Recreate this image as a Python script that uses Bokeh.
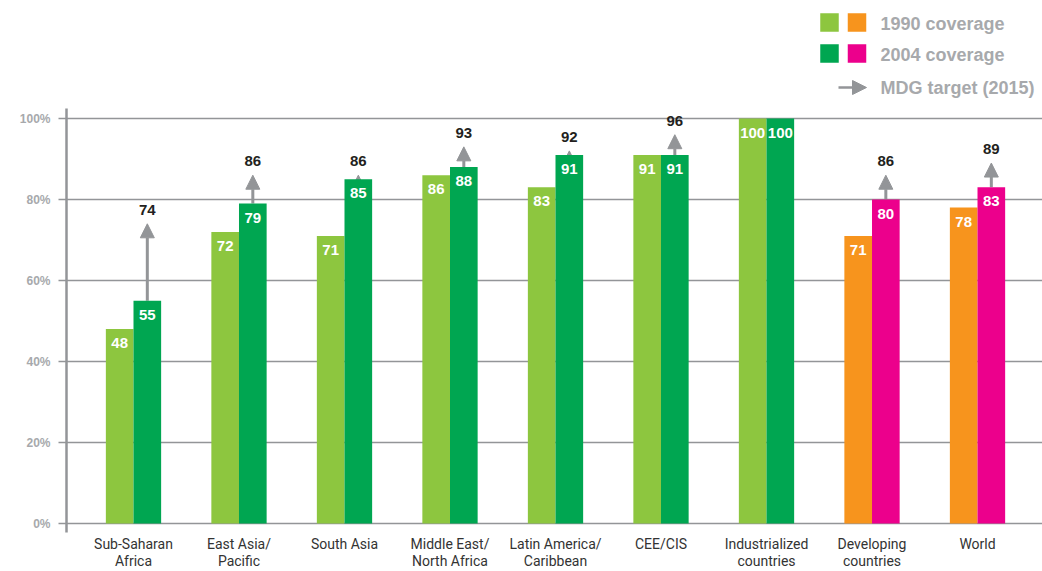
from bokeh.plotting import figure
from bokeh.models import (Range1d, ColumnDataSource, Arrow, NormalHead, FixedTicker)
from bokeh.layouts import column
from bokeh.core.properties import value
from bokeh.embed import file_html
from bokeh.resources import INLINE

# ---------------- data ----------------
categories = ["Sub-Saharan\nAfrica", "East Asia/\nPacific", "South Asia",
              "Middle East/\nNorth Africa", "Latin America/\nCaribbean", "CEE/CIS",
              "Industrialized\ncountries", "Developing\ncountries", "World"]
coverage_1990 = [48, 72, 71, 86, 83, 91, 100, 71, 78]
coverage_2004 = [55, 79, 85, 88, 91, 91, 100, 80, 83]
mdg_target = [74, 86, 86, 93, 92, 96, None, 86, 89]
is_aggregate = [False, False, False, False, False, False, False, True, True]
y_ticks = [0, 20, 40, 60, 80, 100]
legend_labels = ["1990 coverage", "2004 coverage", "MDG target (2015)"]

# ---------------- styles ----------------
C_LIGHT = "#8DC63F"
C_DARK = "#00A651"
C_ORANGE = "#F7941D"
C_MAGENTA = "#EC008C"
C_GRAY = "#939598"
C_TEXT_GRAY = "#A7A9AC"
BOLD_FONT = "'Liberation Sans', Arial, sans-serif"
NARROW_FONT = "'Liberation Sans Narrow', 'Roboto', sans-serif"
BW = 0.262
W = 1042
LEFT = 66

xs = list(range(len(categories)))
src = ColumnDataSource(dict(
    x=xs,
    x1=[x - BW / 2 for x in xs],
    x2=[x + BW / 2 for x in xs],
    v1=coverage_1990,
    v2=coverage_2004,
    l1=[str(v) for v in coverage_1990],
    l2=[str(v) for v in coverage_2004],
    c1=[C_ORANGE if a else C_LIGHT for a in is_aggregate],
    c2=[C_MAGENTA if a else C_DARK for a in is_aggregate],
    cat=categories,
    zero=[0] * len(categories),
))

ti = [i for i, t in enumerate(mdg_target) if t is not None]
tsrc = ColumnDataSource(dict(
    x=[xs[i] + BW / 2 for i in ti],
    y0=[coverage_2004[i] for i in ti],
    y1=[mdg_target[i] for i in ti],
    lab=[str(mdg_target[i]) for i in ti],
))

# ---------------- legend figure (frame aligned with main frame) ----------------
leg = figure(width=W, height=100, x_range=Range1d(LEFT, W), y_range=Range1d(100, 0),
             output_backend="svg", toolbar_location=None, min_border=0,
             min_border_left=LEFT)
leg.axis.visible = False
leg.grid.visible = False
leg.outline_line_color = None
leg.rect(x=[829, 856.5, 829, 856.5], y=[22, 22, 53, 53], width=18.5, height=18.5,
         fill_color=[C_LIGHT, C_ORANGE, C_DARK, C_MAGENTA], line_color=None)
leg.add_layout(Arrow(x_start=838, y_start=87, x_end=866, y_end=87, line_color=C_GRAY,
                     line_width=2.5,
                     end=NormalHead(size=14, fill_color=C_GRAY, line_color=C_GRAY)))
leg.text(x=[880, 880, 880], y=[23, 54, 87], text=legend_labels,
         text_font=value(BOLD_FONT), text_font_style="bold", text_font_size="18px",
         text_color=C_TEXT_GRAY, text_baseline="middle", text_align="left")

# ---------------- main figure ----------------
Y_BOTTOM = -11.85
Y_TOP = 102.47
p = figure(width=W, height=471, x_range=Range1d(-0.635, 8.616),
           y_range=Range1d(Y_BOTTOM, Y_TOP),
           output_backend="svg", toolbar_location=None,
           min_border_left=LEFT, min_border_right=0, min_border_top=8,
           min_border_bottom=0, x_axis_location=None, y_axis_location="left")
p.outline_line_color = None
p.xgrid.visible = False
p.ygrid.ticker = FixedTicker(ticks=y_ticks)
p.ygrid.grid_line_color = C_GRAY
p.ygrid.grid_line_width = 1.5

yax = p.yaxis[0]
yax.ticker = FixedTicker(ticks=y_ticks)
yax.bounds = (-2.22, Y_TOP)
yax.major_label_overrides = {t: f"{t}%" for t in y_ticks}
yax.axis_line_color = C_GRAY
yax.axis_line_width = 2.5
yax.major_tick_out = 8
yax.major_tick_in = 0
yax.major_tick_line_color = C_GRAY
yax.major_tick_line_width = 1.5
yax.minor_tick_line_color = None
yax.major_label_text_font = BOLD_FONT
yax.major_label_text_font_style = "bold"
yax.major_label_text_font_size = "12px"
yax.major_label_text_color = C_TEXT_GRAY
yax.major_label_standoff = 8

# arrows (under the bars)
p.add_layout(Arrow(x_start="x", y_start="y0", x_end="x", y_end="y1", source=tsrc,
                   line_color=C_GRAY, line_width=3, level="underlay",
                   end=NormalHead(size=14, fill_color=C_GRAY, line_color=C_GRAY)))

p.vbar(x="x1", top="v1", width=BW, bottom=0, fill_color="c1", line_color=None, source=src)
p.vbar(x="x2", top="v2", width=BW, bottom=0, fill_color="c2", line_color=None, source=src)

p.text(x="x1", y="v1", text="l1", source=src, text_font=value(BOLD_FONT),
       text_font_style="bold", text_font_size="15px", text_color="white",
       text_align="center", text_baseline="top", y_offset=9)
p.text(x="x2", y="v2", text="l2", source=src, text_font=value(BOLD_FONT),
       text_font_style="bold", text_font_size="15px", text_color="white",
       text_align="center", text_baseline="top", y_offset=9)
p.text(x="x", y="y1", text="lab", source=tsrc, text_font=value(BOLD_FONT),
       text_font_style="bold", text_font_size="15px", text_color="#231F20",
       text_align="center", text_baseline="bottom", y_offset=-9)

# category labels
p.text(x="x", y="zero", text="cat", source=src, text_font=value(NARROW_FONT),
       text_font_size="14px", text_color="#333333", text_align="center",
       text_baseline="top", y_offset=12, text_line_height=1.1)

layout = column(leg, p, spacing=0)
open("out.html", "w").write(file_html(layout, INLINE))
